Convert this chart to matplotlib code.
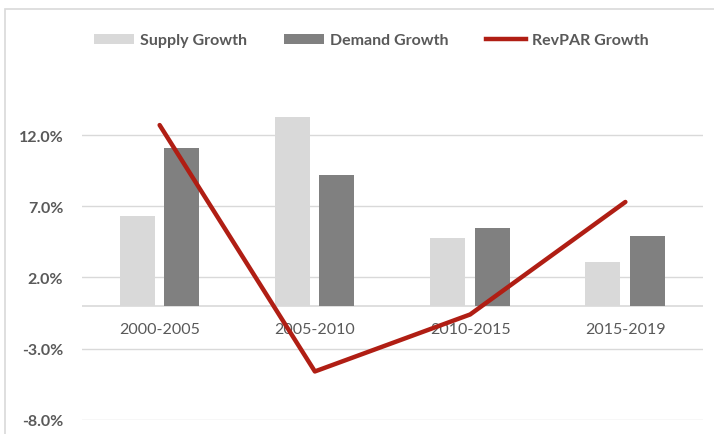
import numpy as np
import matplotlib
matplotlib.use('Agg')
import matplotlib.pyplot as plt
import matplotlib.patches as mpatches
from matplotlib.lines import Line2D
from matplotlib.ticker import FuncFormatter

# ── data ──
periods = ['2000-2005', '2005-2010', '2010-2015', '2015-2019']
supply = [6.3, 13.3, 4.8, 3.1]
demand = [11.1, 9.2, 5.5, 4.9]
revpar = [12.7, -4.6, -0.6, 7.3]
yticks = [-8, -3, 2, 7, 12]

# ── colours ──
LIGHT = '#D9D9D9'
DARK = '#808080'
RED = '#B01E14'
GRID = '#D9D9D9'
TXT = '#595959'

plt.rcParams['font.family'] = ['Lato', 'DejaVu Sans']

fig = plt.figure(figsize=(7.14, 4.35), dpi=100)
ax = fig.add_axes([82 / 714, 0.0325, (703 - 82) / 714, 0.753])

x = np.arange(len(periods))
w = 0.225
ax.bar(x - 0.145, supply, w, color=LIGHT, zorder=2)
ax.bar(x + 0.142, demand, w, color=DARK, zorder=2)
ax.plot(x, revpar, color=RED, lw=3.2, solid_capstyle='round',
        solid_joinstyle='round', zorder=3)

ax.set_xlim(-0.5, len(periods) - 0.5)
ax.set_ylim(-8, 15)
ax.set_yticks(yticks)
ax.yaxis.set_major_formatter(FuncFormatter(lambda v, p: f'{v:.1f}%'))
ax.grid(axis='y', color=GRID, lw=1.0, zorder=0)
ax.axhline(0, color=GRID, lw=1.2, zorder=1)

for s in ax.spines.values():
    s.set_visible(False)
ax.tick_params(left=False, bottom=False)
ax.tick_params(axis='y', labelsize=11.5, labelcolor=TXT, pad=10)
for t in ax.get_yticklabels():
    t.set_fontweight('bold')

ax.set_xticks([])
for i, p in enumerate(periods):
    ax.text(i, -1.65, p, ha='center', va='center', fontsize=11.5,
            color=TXT, zorder=1)

# legend
handles = [mpatches.Patch(facecolor=LIGHT, label='Supply Growth'),
           mpatches.Patch(facecolor=DARK, label='Demand Growth'),
           Line2D([0], [0], color=RED, lw=3.2, label='RevPAR Growth')]
leg = fig.legend(handles=handles, loc='center', bbox_to_anchor=(0.52, 0.905),
                 ncol=3, frameon=False, handlelength=2.5, handleheight=0.6,
                 columnspacing=2.3, handletextpad=0.4,
                 prop={'weight': 'bold', 'size': 11.5})
for t in leg.get_texts():
    t.set_color(TXT)

# chart border
fig.patches.append(mpatches.Rectangle((5 / 714, -0.1), 1.2, 1.1 - 10 / 435,
                                      transform=fig.transFigure, fill=False,
                                      edgecolor='#D9D9D9', lw=1.2))

fig.savefig('out.png', dpi=100, facecolor='white')
